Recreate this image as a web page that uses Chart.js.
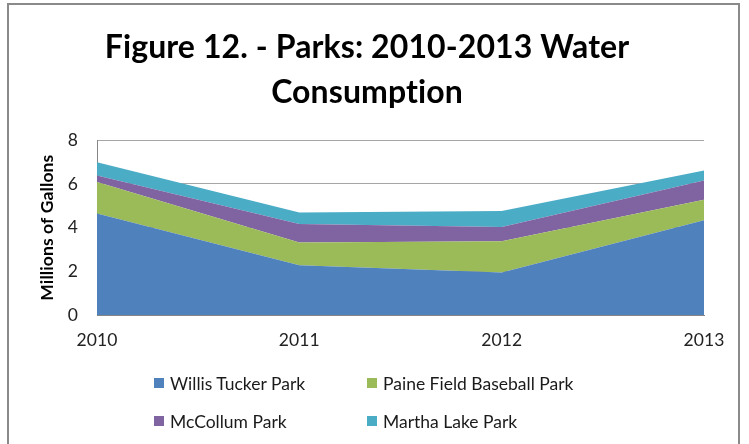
<!DOCTYPE html>
<html>
<head>
<meta charset="utf-8">
<script src="https://cdn.jsdelivr.net/npm/chart.js@4"></script>
<style>
    body { margin: 0; background: #fff; }
    #wrap { position: relative; width: 749px; height: 444px; overflow: hidden; }
    #frame { position: absolute; left: 7px; top: 3px; width: 733px; height: 460px; border: 2px solid #8a8a8a; box-sizing: border-box; }
    #chart { position: absolute; left: 0; top: 0; }
    #legend { position: absolute; left: 154px; top: 372px; display: grid; grid-template-columns: 213px auto; row-gap: 16px;
              font-family: Lato, sans-serif; font-size: 17.5px; color: #1a1a1a; }
    #legend div { display: flex; align-items: center; height: 22px; }
    #legend span.box { width: 10px; height: 10px; margin-right: 6px; display: inline-block; }
</style>
</head>
<body>
<div id="wrap">
    <div id="frame"></div>
    <canvas id="chart" width="749" height="444"></canvas>
    <div id="legend"></div>
</div>
<script>
const years = ['2010', '2011', '2012', '2013'];
const willisTucker = [4.65, 2.28, 1.95, 4.34];
const paineField = [1.44, 1.04, 1.43, 0.94];
const mcCollum = [0.30, 0.85, 0.65, 0.88];
const marthaLake = [0.61, 0.53, 0.73, 0.46];
const seriesNames = ['Willis Tucker Park', 'Paine Field Baseball Park', 'McCollum Park', 'Martha Lake Park'];
const colors = ['#4F81BD', '#9BBB59', '#8064A2', '#4BACC6'];
const yTicks = [0, 2, 4, 6, 8];

// a tiny letter spacing stops the canvas from using Lato's "ti" ligature
const noLigatures = {
    id: 'noLigatures',
    beforeDraw: chart => { chart.ctx.letterSpacing = '0.1px'; }
};

document.addEventListener("DOMContentLoaded", () => {
    const series = [willisTucker, paineField, mcCollum, marthaLake];
    const ctx = document.getElementById('chart').getContext('2d');
    const chart = new Chart(ctx, {
        type: 'line',
        data: {
            labels: years,
            datasets: series.map((vals, i) => ({
                label: seriesNames[i],
                data: vals,
                backgroundColor: colors[i],
                borderColor: colors[i],
                borderWidth: 0,
                pointRadius: 0,
                tension: 0,
                fill: i === 0 ? 'origin' : '-1'
            }))
        },
        options: {
            responsive: false,
            animation: false,
            layout: { padding: { left: 30, right: 45, top: 0, bottom: 84 } },
            plugins: {
                legend: { display: false },
                tooltip: { enabled: false },
                title: {
                    display: true,
                    text: ['Figure 12. - Parks: 2010-2013 Water', 'Consumption'],
                    color: '#000',
                    font: { family: 'Lato', size: 32, weight: 'bold', lineHeight: 1.38 },
                    padding: { top: 26, bottom: 26 }
                }
            },
            scales: {
                x: {
                    offset: false,
                    grid: { display: false, drawTicks: false },
                    border: { color: '#868686', width: 1 },
                    ticks: { color: '#222', font: { family: 'Lato', size: 17.5 }, padding: 15, maxRotation: 0 },
                    afterFit: axis => { axis.height = 45; }
                },
                y: {
                    stacked: true,
                    min: 0,
                    max: 8,
                    afterBuildTicks: axis => { axis.ticks = yTicks.map(v => ({ value: v })); },
                    grid: { color: '#a6a6a6', drawTicks: false },
                    border: { color: '#868686', width: 1 },
                    ticks: { color: '#222', font: { family: 'Lato', size: 17.5 }, padding: 19 },
                    title: {
                        display: true,
                        text: 'Millions of Gallons',
                        color: '#000',
                        font: { family: 'Lato', size: 17.5, weight: 'bold' },
                        padding: { top: 7, bottom: 0 }
                    },
                    afterFit: axis => { axis.width = 67; }
                }
            }
        },
        plugins: [noLigatures]
    });

    const legend = document.getElementById('legend');
    chart.data.datasets.forEach(ds => {
        const item = document.createElement('div');
        item.innerHTML = '<span class="box" style="background:' + ds.backgroundColor + '"></span>' + ds.label;
        legend.appendChild(item);
    });
});
</script>
</body>
</html>
